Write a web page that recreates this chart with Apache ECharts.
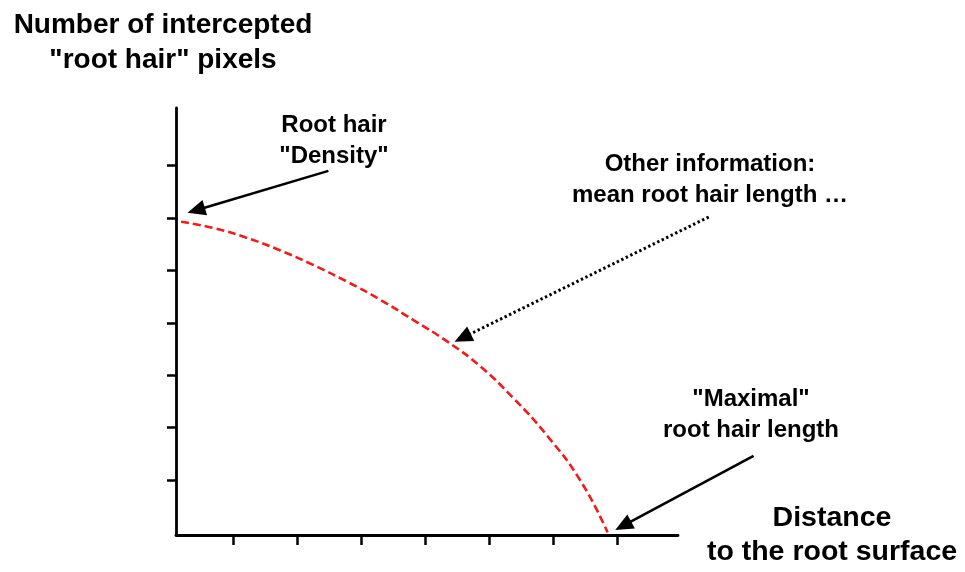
<!DOCTYPE html>
<html>
<head>
<meta charset="utf-8">
<script src="https://cdn.jsdelivr.net/npm/echarts@6/dist/echarts.min.js"></script>
<style>
  html, body { margin: 0; padding: 0; background: #ffffff; }
  #chart { width: 965px; height: 572px; }
</style>
</head>
<body>
<div id="chart"></div>
<script>
// Schematic profile: intercepted root-hair pixels vs. distance to the root surface
const distance   = [0.19, 0.69, 1.22, 1.74, 2.26, 2.79, 3.30, 3.82, 4.35, 4.86, 5.38, 5.91, 6.43, 6.85];
const hairPixels = [5.93, 5.81, 5.62, 5.38, 5.10, 4.78, 4.44, 4.05, 3.64, 3.17, 2.56, 1.84, 0.98, 0.00];

// Unlabelled tick positions on both axes
const xTicks = [1, 2, 3, 4, 5, 6, 7];
const yTicks = [1, 2, 3, 4, 5, 6, 7];
const xRange = [0.11, 7.95];
const yRange = [-0.05, 8.10];

// Annotation arrows in data units: [tail, head]
const densityArrow = [[2.49, 6.90], [0.29, 6.10]];
const meanArrow    = [[8.43, 6.02], [4.46, 3.64]];
const maximalArrow = [[9.13, 1.46], [6.97, 0.045]];

const FONT = '"Liberation Sans", Arial, Helvetica, sans-serif';

const chart = echarts.init(document.getElementById('chart'), null, { renderer: 'canvas' });

chart.setOption({
  animation: false,
  backgroundColor: '#ffffff',
  grid: { left: 176, right: 287, top: 108, bottom: 37, containLabel: false },
  xAxis: {
    type: 'value',
    min: xRange[0],
    max: xRange[1],
    name: 'Distance\nto the root surface',
    nameLocation: 'end',
    nameGap: 154,
    nameTextStyle: {
      fontFamily: FONT, fontWeight: 'bold', fontSize: 28.5, color: '#000',
      align: 'center', verticalAlign: 'middle', lineHeight: 34, padding: [6, 0, 0, 0]
    },
    axisLine: { onZero: false, lineStyle: { color: '#000', width: 2.8 } },
    axisTick: { show: true, inside: false, length: 10, customValues: xTicks, lineStyle: { color: '#000', width: 2.5 } },
    axisLabel: { show: false, customValues: xTicks },
    splitLine: { show: false }
  },
  yAxis: {
    type: 'value',
    min: yRange[0],
    max: yRange[1],
    name: 'Number of intercepted\n"root hair" pixels',
    nameLocation: 'end',
    nameGap: 30,
    nameTextStyle: {
      fontFamily: FONT, fontWeight: 'bold', fontSize: 28, color: '#000',
      align: 'center', lineHeight: 35, padding: [0, 26, 0, 0]
    },
    axisLine: { onZero: false, lineStyle: { color: '#000', width: 2.8 } },
    axisTick: { show: true, inside: false, length: 9, customValues: yTicks, lineStyle: { color: '#000', width: 2.5 } },
    axisLabel: { show: false, customValues: yTicks },
    splitLine: { show: false }
  },
  series: [{
    type: 'line',
    data: distance.map((d, i) => [d, hairPixels[i]]),
    smooth: 0.5,
    symbol: 'none',
    clip: false,
    lineStyle: { color: '#ee1c1c', width: 2.6, type: [8, 4] }
  }]
});

// Arrow built from a shaft line and a filled triangular head
function arrow(pair, dashed) {
  const p0 = chart.convertToPixel({ gridIndex: 0 }, pair[0]);
  const p1 = chart.convertToPixel({ gridIndex: 0 }, pair[1]);
  const dx = p1[0] - p0[0], dy = p1[1] - p0[1];
  const len = Math.hypot(dx, dy);
  const ux = dx / len, uy = dy / len;
  const headLen = 18, headHalf = 8;
  const bx = p1[0] - ux * headLen, by = p1[1] - uy * headLen;
  return [
    {
      type: 'line',
      shape: { x1: p0[0], y1: p0[1], x2: bx + ux * 2, y2: by + uy * 2 },
      style: { stroke: '#000', lineWidth: dashed ? 3 : 2.6, lineDash: dashed ? [2.4, 2.6] : null },
      silent: true
    },
    {
      type: 'polygon',
      shape: { points: [[p1[0], p1[1]], [bx - uy * headHalf, by + ux * headHalf], [bx + uy * headHalf, by - ux * headHalf]] },
      style: { fill: '#000' },
      silent: true
    }
  ];
}

function note(text, x, y) {
  return {
    type: 'text',
    x: x, y: y,
    silent: true,
    style: {
      text: text,
      font: 'bold 24px ' + FONT,
      fill: '#000',
      align: 'center',
      verticalAlign: 'middle',
      lineHeight: 31
    }
  };
}

chart.setOption({
  graphic: [
    ...arrow(densityArrow, false),
    ...arrow(meanArrow, true),
    ...arrow(maximalArrow, false),
    note('Root hair\n"Density"', 334, 141),
    note('Other information:\nmean root hair length \u2026', 710, 180),
    note('"Maximal"\nroot hair length', 751, 415)
  ]
});
</script>
</body>
</html>
